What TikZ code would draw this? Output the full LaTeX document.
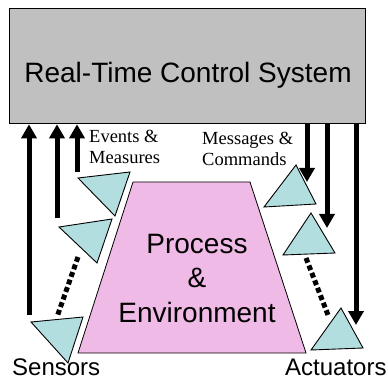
\documentclass[tikz,border=0pt]{standalone}
\usepackage{fontspec}
\setmainfont{Liberation Serif}
\newfontfamily\arialfont{Liberation Sans}
\usetikzlibrary{arrows.meta}
\definecolor{boxgray}{RGB}{192,192,192}
\definecolor{procpink}{RGB}{240,186,230}
\definecolor{triblue}{RGB}{178,222,224}
\begin{document}
\begin{tikzpicture}[x=1pt,y=-1pt,
  bigarrow/.style={line width=5pt,-{Triangle[width=15pt,length=14pt]}},
  dotline/.style={line width=5pt,dash pattern=on 5pt off 3pt},
  tri/.style={draw=black,line width=0.9pt,fill=triblue,line join=miter},
  bigsans/.style={font=\arialfont\fontsize{28}{34.5}\selectfont},
  midsans/.style={font=\arialfont\fontsize{24}{29}\selectfont},
  serif/.style={font=\fontsize{18.5}{21}\selectfont},
  lbl/.style={inner sep=0pt}
]
\useasboundingbox (0,0) rectangle (388,379);

% control system box
\node[draw,line width=1.3pt,fill=boxgray,minimum width=356pt,minimum height=115pt,
      inner sep=0pt,anchor=north west] (rts) at (9,8) {};
\node[lbl,bigsans,anchor=base] (title) at (188,83) {Real-Time Control System};

% process trapezoid
\coordinate (p1) at (133,182);
\coordinate (p2) at (250,182);
\coordinate (p3) at (306,353);
\coordinate (p4) at (78,353);
\draw[fill=procpink,line width=0.8pt] (p1)--(p2)--(p3)--(p4)--cycle;
\node[lbl,bigsans,align=center,anchor=base] (proc) at (197,322) {Process\\\&\\Environment};

% sensors
\coordinate (s1a) at (78,178);  \coordinate (s1b) at (130,172); \coordinate (s1c) at (115,216);
\coordinate (s2a) at (59,227);  \coordinate (s2b) at (112,219); \coordinate (s2c) at (97,263);
\coordinate (s3a) at (31,322);  \coordinate (s3b) at (83,317);  \coordinate (s3c) at (68,363);
\draw[tri] (s1a)--(s1b)--(s1c)--cycle;
\draw[tri] (s2a)--(s2b)--(s2c)--cycle;
\draw[tri] (s3a)--(s3b)--(s3c)--cycle;

% actuators
\coordinate (a1a) at (296,165); \coordinate (a1b) at (264,207); \coordinate (a1c) at (316,204);
\coordinate (a2a) at (311,213); \coordinate (a2b) at (283,255); \coordinate (a2c) at (335,253);
\coordinate (a3a) at (341,308); \coordinate (a3b) at (311,350); \coordinate (a3c) at (363,348);
\draw[tri] (a1a)--(a1b)--(a1c)--cycle;
\draw[tri] (a2a)--(a2b)--(a2c)--cycle;
\draw[tri] (a3a)--(a3b)--(a3c)--cycle;

% sensor arrows
\coordinate (sa1) at (29,315);
\coordinate (sa2) at (57,218);
\coordinate (sa3) at (77,172);
\draw[bigarrow] (sa1) -- (sa1 |- rts.south);
\draw[bigarrow] (sa2) -- (sa2 |- rts.south);
\draw[bigarrow] (sa3) -- (sa3 |- rts.south);

% actuator arrows
\coordinate (aa1) at (307,182);
\coordinate (aa2) at (327,228);
\coordinate (aa3) at (356,325);
\draw[bigarrow] (aa1 |- rts.south) -- (aa1);
\draw[bigarrow] (aa2 |- rts.south) -- (aa2);
\draw[bigarrow] (aa3 |- rts.south) -- (aa3);

% dotted continuation lines
\coordinate (sd1) at (78,257);  \coordinate (sd2) at (57,317);
\coordinate (ad1) at (306,258); \coordinate (ad2) at (328,315);
\draw[dotline] (sd1) -- (sd2);
\draw[dotline] (ad1) -- (ad2);

% labels
\node[lbl,serif,align=left,anchor=base west] (ev) at (89,164) {Events \&\\Measures};
\node[lbl,serif,align=left,anchor=base west] (msg) at (202,166) {Messages \&\\Commands};
\node[lbl,midsans,anchor=base west] (sens) at (12,375) {Sensors};
\node[lbl,midsans,anchor=base west] (act) at (285,375) {Actuators};
\end{tikzpicture}
\end{document}
